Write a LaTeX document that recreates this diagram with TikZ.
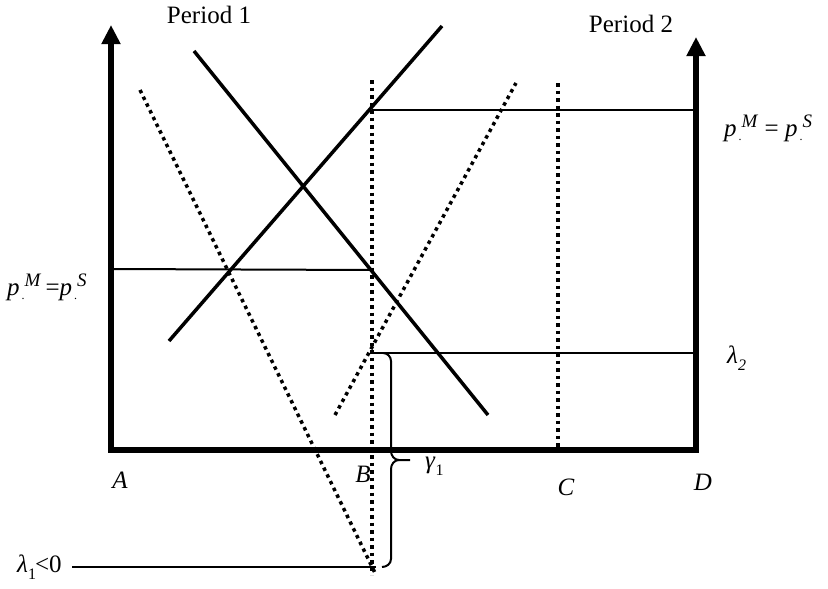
\documentclass[tikz,border=0pt]{standalone}
\usepackage{fontspec}
\setmainfont{Liberation Serif}
\usetikzlibrary{arrows.meta}
\newcommand{\pdot}[1]{\textit{p}\kern2pt\raisebox{-0.4ex}{\fontsize{12}{12}\selectfont .}\raisebox{0.8ex}{\fontsize{19}{19}\selectfont\textit{#1}}}
\begin{document}
\begin{tikzpicture}[x=1pt,y=-1pt,
  axis/.style={line width=5.5pt, line join=miter},
  curve/.style={line width=3.5pt},
  thinline/.style={line width=2pt},
  dots/.style={line width=3.5pt, dash pattern=on 3.5pt off 4pt},
  lbl/.style={font=\fontsize{25}{29}\selectfont, inner sep=0pt},
  tri/.tip={Triangle[width=18pt,length=19pt]}]
\useasboundingbox (0,0) rectangle (828,589);
% axes
\coordinate (ltop) at (111,25);
\coordinate (lbot) at (111,450);
\coordinate (rbot) at (696,450);
\coordinate (rtop) at (696,37);
\draw[axis,tri-tri] (ltop) -- (lbot) -- (rbot) -- (rtop);
% solid lines
\coordinate (s1) at (169,341); \coordinate (s2) at (442,26);
\coordinate (d1) at (194,51);  \coordinate (d2) at (488,415);
\draw[curve] (s1) -- (s2);
\draw[curve] (d1) -- (d2);
% dotted lines
\coordinate (ld1) at (140,90); \coordinate (ld2) at (376,575);
\coordinate (vb1) at (372,80); \coordinate (vb2) at (372,575);
\coordinate (vc1) at (558,83); \coordinate (vc2) at (558,448);
\coordinate (rd1) at (335,415); \coordinate (rd2) at (516,83);
\draw[dots] (ld1) -- (ld2);
\draw[dots] (vb1) -- (vb2);
\draw[dots] (vc1) -- (vc2);
\draw[dots] (rd1) -- (rd2);
% horizontal lines
\coordinate (h1a) at (111,269); \coordinate (h1b) at (372,270);
\coordinate (h2a) at (372,110); \coordinate (h2b) at (696,110);
\coordinate (h3a) at (372,353); \coordinate (h3b) at (696,353);
\coordinate (h4a) at (72,567); \coordinate (h4b) at (376,567);
\draw[thinline] (h1a) -- (h1b);
\draw[thinline] (h2a) -- (h2b);
\draw[thinline] (h3a) -- (h3b);
\draw[thinline] (h4a) -- (h4b);
% brace
\draw[thinline] (383,353) to[out=0,in=90] (391,361) -- (391,451)
  to[out=-90,in=180] (399,460) -- (410,460);
\draw[thinline] (399,460) to[out=180,in=90] (391,469) -- (391,559)
  to[out=-90,in=0] (382,567);
% labels
\node[lbl] (p1) at (209,15) {Period 1};
\node[lbl] (p2) at (631,24) {Period 2};
\node[lbl, anchor=west] (pr) at (724,128) {\pdot{M} = \pdot{S}};
\node[lbl, anchor=west] (pl) at (7,287) {\pdot{M}\,=\pdot{S}};
\node[lbl, anchor=west] (l2) at (727,358) {\textit{λ}\raisebox{-0.6ex}{\fontsize{16}{16}\selectfont\textit{2}}};
\node[lbl] (A) at (120,480) {\textit{A}};
\node[lbl] (B) at (363,474) {\textit{B}};
\node[lbl] (C) at (566,487) {\textit{C}};
\node[lbl] (D) at (703,482) {\textit{D}};
\node[lbl, anchor=west] (g1) at (425,466) {\textit{γ}\raisebox{-0.6ex}{\fontsize{16}{16}\selectfont 1}};
\node[lbl, anchor=west] (l1) at (17,567) {\textit{λ}\raisebox{-0.6ex}{\fontsize{16}{16}\selectfont 1}\kern-1pt<0};
\end{tikzpicture}
\end{document}
